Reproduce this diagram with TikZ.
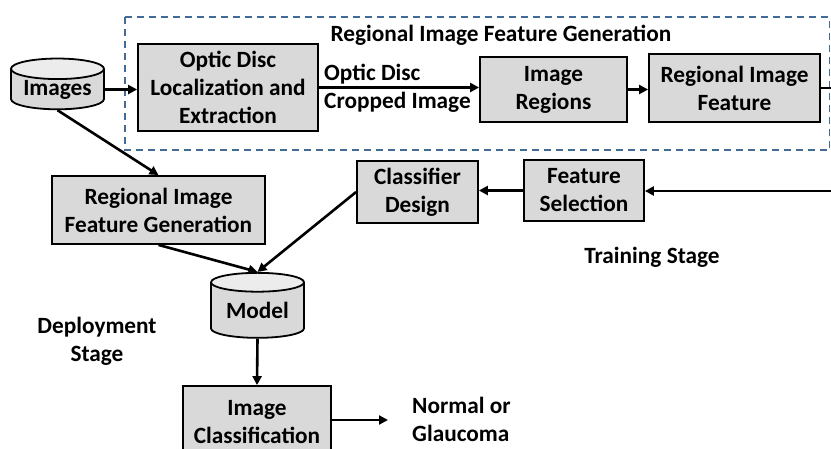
\documentclass[tikz,border=0pt]{standalone}
\usepackage{fontspec}
\setmainfont{Carlito}
\usetikzlibrary{shapes.geometric,arrows.meta}
\definecolor{boxfill}{RGB}{217,217,217}
\definecolor{endfill}{RGB}{236,236,236}
\definecolor{dashblue}{RGB}{68,106,150}
\begin{document}
\begin{tikzpicture}[x=1pt,y=-1pt,
  lbl/.style={font=\bfseries\fontsize{23.3}{28}\selectfont, align=center, inner sep=0pt},
  box/.style={lbl, draw, line width=1.8pt, fill=boxfill},
  cyl/.style={lbl, cylinder, shape border rotate=90, draw, line width=1.8pt,
    cylinder uses custom fill, cylinder body fill=boxfill, cylinder end fill=endfill},
  arr/.style={line width=2.6pt, -{Triangle[length=9pt,width=9pt]}},
  ln/.style={line width=2.6pt}]
\clip (0,0) rectangle (831,448);
\fill[white] (0,0) rectangle (831,448);
% dashed region
\draw[dashblue, line width=1.4pt, dash pattern=on 7pt off 5pt] (125,17) rectangle (829.5,150);
\node[lbl] (title) at (501,35) {Regional Image Feature Generation};
% top row
\node[cyl, minimum width=93pt, minimum height=47pt, aspect=0.3] (images) at (57.5,89.5) {Images};
\node[box, minimum width=180pt, minimum height=87pt] (optic) at (228,87.5) {Optic Disc\\Localization and\\Extraction};
\node[box, minimum width=147pt, minimum height=65pt] (regions) at (553.5,89.5) {Image\\Regions};
\node[box, minimum width=171pt, minimum height=68pt] (rif) at (734.5,88) {Regional Image\\Feature};
\node[lbl, align=left, anchor=west] (cropped) at (324,88) {Optic Disc\\Cropped Image};
\coordinate (rightout) at (831,88);
% training row
\node[box, minimum width=121pt, minimum height=62pt] (classifier) at (417.5,192) {Classifier\\Design};
\node[box, minimum width=120pt, minimum height=61pt] (fsel) at (584,190.5) {Feature\\Selection};
\coordinate (rightin) at (831,191);
\node[lbl] (training) at (652,257) {Training Stage};
% deployment
\node[box, minimum width=213pt, minimum height=68pt] (rifg) at (158.5,210) {Regional Image\\Feature Generation};
\node[cyl, minimum width=93pt, minimum height=65pt, aspect=0.3] (model) at (257.5,310.5) {Model};
\node[lbl] (deploy) at (97,341) {Deployment\\Stage};
\node[box, minimum width=148pt, minimum height=72pt] (imgcls) at (257,422) {Image\\Classification};
\node[lbl, align=left, anchor=west] (result) at (412,419) {Normal or\\Glaucoma};
\coordinate (resarrow) at (388,420);
% connectors
\draw[arr] (images.east) -- (optic.west |- images.east);
\draw[arr] (optic.east) -- (optic.east -| regions.west);
\draw[arr] (regions.east) -- (regions.east -| rif.west);
\draw[ln] (rif.east) -- (rightout);
\draw[arr] (rightin) -- (fsel.east |- rightin);
\draw[arr] (fsel.west) -- (fsel.west -| classifier.east);
\draw[arr] (images.south) -- (rifg.north);
\draw[arr] (rifg.south) -- (model.north);
\draw[arr] (classifier.west) -- (model.north);
\draw[arr] (model.south) -- (imgcls.north);
\draw[arr] (imgcls.east |- resarrow) -- (resarrow);
\end{tikzpicture}
\end{document}
